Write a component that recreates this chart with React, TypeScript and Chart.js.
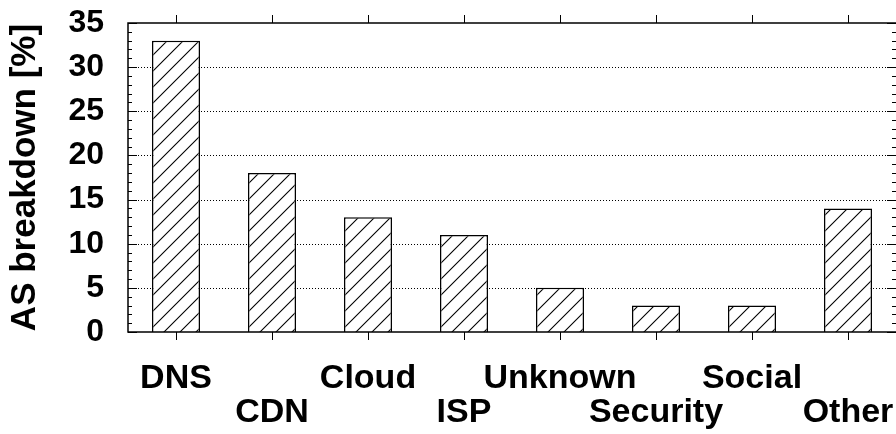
import React, { useEffect, useRef } from 'react';
import { Chart, registerables } from 'chart.js';

Chart.register(...registerables);

const categories = ['DNS', 'CDN', 'Cloud', 'ISP', 'Unknown', 'Security', 'Social', 'Other'];
const values = [33, 18, 13, 11, 5, 3, 3, 14];
const yTicks = [0, 5, 10, 15, 20, 25, 30, 35];
const yTitle = 'AS breakdown [%]';

const FONT = "'Liberation Sans', Arial, Helvetica, sans-serif";

function makePattern(ctx: CanvasRenderingContext2D): CanvasPattern | string {
  const c = document.createElement('canvas');
  c.width = 16;
  c.height = 16;
  const g = c.getContext('2d');
  if (!g) return '#fff';
  g.fillStyle = '#fff';
  g.fillRect(0, 0, 16, 16);
  g.strokeStyle = '#000';
  g.lineWidth = 1.1;
  g.beginPath();
  g.moveTo(-2, 18);
  g.lineTo(18, -2);
  g.moveTo(-2, 2);
  g.lineTo(2, -2);
  g.moveTo(14, 18);
  g.lineTo(18, 14);
  g.stroke();
  return ctx.createPattern(c, 'repeat') || '#fff';
}

const framePlugin = {
  id: 'gnuframe',
  beforeDatasetsDraw(chart: any) {
    const { ctx, chartArea: a, scales } = chart;
    const y = scales.y;
    ctx.save();
    ctx.strokeStyle = '#000';
    ctx.lineWidth = 1;
    ctx.setLineDash([1, 2]);
    for (const v of yTicks) {
      if (v === yTicks[0] || v === yTicks[yTicks.length - 1]) continue;
      const py = Math.round(y.getPixelForValue(v)) + 0.5;
      ctx.beginPath();
      ctx.moveTo(a.left + 10, py);
      ctx.lineTo(a.right - 9, py);
      ctx.stroke();
    }
    ctx.restore();
  },
  afterDatasetsDraw(chart: any) {
    const { ctx, chartArea: a, scales } = chart;
    const y = scales.y;
    const x = scales.x;
    ctx.save();
    ctx.strokeStyle = '#000';
    ctx.lineWidth = 1.5;
    ctx.setLineDash([]);
    ctx.beginPath();
    ctx.moveTo(a.right + 1, a.top);
    ctx.lineTo(a.left, a.top);
    ctx.lineTo(a.left, a.bottom);
    ctx.lineTo(a.right + 1, a.bottom);
    ctx.stroke();
    const yMin = yTicks[0];
    const yMax = yTicks[yTicks.length - 1];
    ctx.lineWidth = 1;
    for (let v = yMin; v <= yMax; v += 1) {
      const major = v % 5 === 0;
      const len = major ? 9 : 4;
      const py = Math.round(y.getPixelForValue(v)) + 0.5;
      ctx.beginPath();
      ctx.moveTo(a.left, py);
      ctx.lineTo(a.left + len, py);
      ctx.moveTo(a.right, py);
      ctx.lineTo(a.right - len, py);
      ctx.stroke();
    }
    for (let i = 0; i < categories.length; i++) {
      const px = Math.round(x.getPixelForValue(i)) + 0.5;
      ctx.beginPath();
      ctx.moveTo(px, a.top);
      ctx.lineTo(px, a.top - 8);
      ctx.moveTo(px, a.bottom);
      ctx.lineTo(px, a.bottom + 8);
      ctx.stroke();
    }
    ctx.restore();
  },
};

export default function App() {
  const ref = useRef<HTMLCanvasElement | null>(null);

  useEffect(() => {
    const canvas = ref.current;
    if (!canvas) return;
    const ctx = canvas.getContext('2d');
    if (!ctx) return;
    const pattern = makePattern(ctx);
    const labels = categories.map((c, i) => (i % 2 === 0 ? [c, ''] : ['', c]));
    const chart = new Chart(canvas, {
      type: 'bar',
      data: {
        labels,
        datasets: [
          {
            data: values,
            backgroundColor: pattern as any,
            borderColor: '#000',
            borderWidth: 1.5,
            barPercentage: 0.5,
            categoryPercentage: 1,
          },
        ],
      },
      options: {
        animation: false,
        responsive: false,
        maintainAspectRatio: false,
        layout: { padding: { top: 23, right: 0, left: 0, bottom: 0 } },
        plugins: { legend: { display: false }, tooltip: { enabled: false } },
        scales: {
          x: {
            grid: { display: false, drawTicks: false },
            border: { display: false },
            ticks: {
              autoSkip: false,
              maxRotation: 0,
              minRotation: 0,
              padding: 30,
              color: '#000',
              font: { family: FONT, size: 34, weight: 'bold', lineHeight: 1 },
            },
            afterFit: (s: any) => {
              s.height = 102;
              s.paddingLeft = 0;
              s.paddingRight = 0;
            },
          },
          y: {
            min: yTicks[0],
            max: yTicks[yTicks.length - 1],
            grid: { display: false, drawTicks: false },
            border: { display: false },
            ticks: {
              stepSize: 5,
              autoSkip: false,
              padding: 24,
              color: '#000',
              font: { family: FONT, size: 32, weight: 'bold' },
            },
            title: {
              display: true,
              text: yTitle,
              color: '#000',
              padding: { top: 4, bottom: 0 },
              font: { family: FONT, size: 35, weight: 'bold', lineHeight: 1.2 },
            },
            afterFit: (s: any) => {
              s.width = 128;
              s.paddingTop = 0;
              s.paddingBottom = 0;
            },
          },
        },
      },
      plugins: [framePlugin],
    });
    return () => chart.destroy();
  }, []);

  return (
    <div style={{ position: 'fixed', left: 0, top: 0, width: 896, height: 434, background: '#fff' }}>
      <canvas ref={ref} width={896} height={434} style={{ width: 896, height: 434, display: 'block' }} />
    </div>
  );
}
